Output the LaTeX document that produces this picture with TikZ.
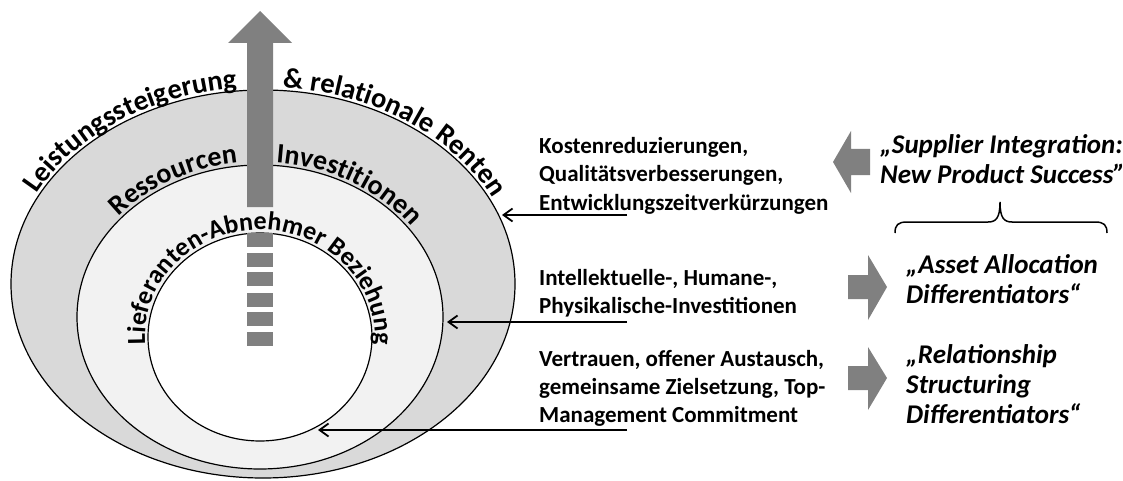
\documentclass[tikz,border=0pt]{standalone}
\usepackage{fontspec}
\setmainfont{Carlito}
\usetikzlibrary{decorations.text,arrows.meta,calc}
\definecolor{ringouter}{HTML}{D9D9D9}
\definecolor{ringmid}{HTML}{F2F2F2}
\definecolor{arrowgray}{HTML}{808080}
\newcommand\outerlabelfont{\bfseries\fontsize{28.5}{28.5}\selectfont}
\newcommand\ringlabelfont{\bfseries\fontsize{28}{28}\selectfont}
\newcommand\innerlabelfont{\bfseries\fontsize{26}{26}\selectfont}
\begin{document}
\begin{tikzpicture}[x=1pt,y=1pt,
  ring/.style={draw=black,line width=1.2pt},
  conn/.style={line width=1.8pt,-{Straight Barb[length=9pt,width=13pt]}},
  outerarctext/.style={decorate,decoration={text along path,text align=center,
      text={|\outerlabelfont|#1}}},
  arctext/.style={decorate,decoration={text along path,text align=center,
      text={|\ringlabelfont|#1}}},
  innerarctext/.style={decorate,decoration={text along path,text align=center,
      text={|\innerlabelfont|#1}}},
  lefttext/.style={font=\bfseries\fontsize{23}{28}\selectfont,align=left,
      inner sep=0pt,anchor=base west},
  righttext/.style={font=\bfseries\itshape\fontsize{27}{30}\selectfont,align=left,
      inner sep=0pt,anchor=base west},
  blockarrow/.style={fill=arrowgray}]
\useasboundingbox (0,0) rectangle (1123,480);

% three nested rings
\filldraw[ring,fill=ringouter] (263,196) ellipse [x radius=252,y radius=194];
\filldraw[ring,fill=ringmid]   (260,163) ellipse [x radius=183,y radius=152];
\filldraw[ring,fill=white]     (260,143) ellipse [x radius=112,y radius=104];

% labels bent along the rings
\path[outerarctext=Leistungssteigerung]
  ($(263,196)+(160:255 and 197)$) arc[start angle=160,end angle=90,x radius=255,y radius=197];
\path[outerarctext={{\&} relationale Renten}]
  ($(263,196)+(91:255 and 197)$) arc[start angle=91,end angle=19,x radius=255,y radius=197];
\path[arctext=Ressourcen]
  ($(260,163)+(146:186 and 155)$) arc[start angle=146,end angle=91,x radius=186,y radius=155];
\path[arctext=Investitionen]
  ($(260,163)+(90:186 and 155)$) arc[start angle=90,end angle=30,x radius=186,y radius=155];
\path[innerarctext={Lieferanten-Abnehmer Beziehung}]
  ($(260,143)+(186:115 and 107)$) arc[start angle=186,end angle=-6,x radius=115,y radius=107];

% upward arrow with dashed tail
\fill[arrowgray] (247,273) -- (247,437) -- (228,437) -- (260,469) -- (292,437)
  -- (273,437) -- (273,273) -- cycle;
\foreach \t in {233,253,272,293,312,332}
  \fill[arrowgray] (247,{480-\t}) rectangle (273,{466-\t});

% descriptions of the rings (anchored at the last line)
\node[lefttext] (effects) at (539,270)
  {Kostenreduzierungen,\\Qualitätsverbesserungen,\\Entwicklungszeitverkürzungen};
\node[lefttext] (invest) at (539,167)
  {Intellektuelle-, Humane-,\\Physikalische-Investitionen};
\node[lefttext] (trust) at (539,58)
  {Vertrauen, offener Austausch,\\gemeinsame Zielsetzung, Top-\\Management Commitment};

\coordinate (effectsEnd) at (627,265);
\coordinate (investEnd)  at (627,158);
\coordinate (trustEnd)   at (627,50);
\coordinate (outerHit)   at (502,265);
\coordinate (midHit)     at (447,158);
\coordinate (innerHit)   at (318,50);
\draw[conn] (effectsEnd) -- (outerHit);
\draw[conn] (investEnd) -- (midHit);
\draw[conn] (trustEnd) -- (innerHit);

% success factor groups
\node[righttext] (supplier) at (880,297) {„Supplier Integration:\\New Product Success"};
\node[righttext] (asset) at (906,177) {„Asset Allocation\\Differentiators“};
\node[righttext] (relation) at (906,57) {„Relationship\\Structuring\\Differentiators“};

% block arrows between the columns
\fill[blockarrow] (870,331) -- (851,331) -- (851,349) -- (833,318) -- (851,287)
  -- (851,305) -- (870,305) -- cycle;
\fill[blockarrow] (848,205) -- (868,205) -- (868,225) -- (887,193) -- (868,160)
  -- (868,181) -- (848,181) -- cycle;
\fill[blockarrow] (848,114) -- (868,114) -- (868,133) -- (887,102) -- (868,70)
  -- (868,90) -- (848,90) -- cycle;

% brace under the first group
\draw[line width=1.5pt] (895,247) .. controls (895,255) and (898,258) .. (907,258)
  -- (988,258) .. controls (996,258) and (1000,262) .. (1000,278)
  .. controls (1000,262) and (1004,258) .. (1012,258)
  -- (1095,258) .. controls (1104,258) and (1107,255) .. (1107,247);
\end{tikzpicture}
\end{document}
